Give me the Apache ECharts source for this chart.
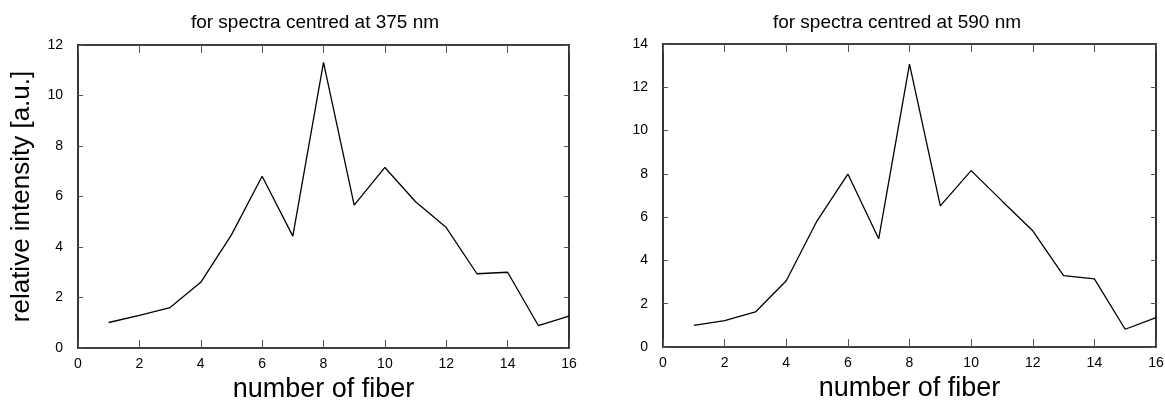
<!DOCTYPE html>
<html>
<head>
<meta charset="utf-8">
<script src="https://cdn.jsdelivr.net/npm/echarts@6/dist/echarts.min.js"></script>
<style>
html,body{margin:0;padding:0;background:#fff;}
#c{width:1165px;height:402px;}
</style>
</head>
<body>
<div id="c"></div>
<script>
const fibers = [1,2,3,4,5,6,7,8,9,10,11,12,13,14,15,16];
const intensity375 = [1.01,1.29,1.6,2.6,4.48,6.8,4.43,11.31,5.66,7.15,5.79,4.77,2.94,3.0,0.89,1.26];
const intensity590 = [1.0,1.22,1.62,3.06,5.83,7.99,5.0,13.07,6.52,8.15,6.75,5.37,3.3,3.15,0.82,1.36];
const titles = ['for spectra centred at 375 nm','for spectra centred at 590 nm'];
const xTitle = 'number of fiber';
const yTitle = 'relative intensity [a.u.]';
const xTicks = {min:0, max:16, interval:2};
const yTicks = [{min:0,max:12,interval:2},{min:0,max:14,interval:2}];

const FONT = 'Liberation Sans, Arial, Helvetica, sans-serif';
const chart = echarts.init(document.getElementById('c'), null, {renderer:'canvas'});

const grids = [
  {left:78, top:45, width:491, height:303, containLabel:false, outerBoundsMode:'none'},
  {left:663, top:44, width:493, height:303, containLabel:false, outerBoundsMode:'none'}
];

const xAxes = [], yAxes = [], series = [];
grids.forEach((g, i) => {
  xAxes.push({
    type:'value', gridIndex:i, position:'bottom', min:xTicks.min, max:xTicks.max, interval:xTicks.interval,
    axisLine:{show:true, onZero:false, lineStyle:{color:'#000', width:1.6}},
    axisTick:{show:true, inside:true, length:8, lineStyle:{color:'#555', width:1}},
    axisLabel:{show:true, color:'#000', fontSize:14, fontFamily:FONT, margin:9},
    splitLine:{show:false},
    name:xTitle, nameLocation:'middle', nameGap:24,
    nameTextStyle:{color:'#000', fontSize:27, fontFamily:FONT, verticalAlign:'top'}
  });
  xAxes.push({
    type:'value', gridIndex:i, position:'top', min:xTicks.min, max:xTicks.max, interval:xTicks.interval,
    axisLine:{show:true, onZero:false, lineStyle:{color:'#000', width:1.6}},
    axisTick:{show:true, inside:true, length:8, lineStyle:{color:'#555', width:1}},
    axisLabel:{show:false}, splitLine:{show:false}
  });
  yAxes.push({
    type:'value', gridIndex:i, position:'left', min:yTicks[i].min, max:yTicks[i].max, interval:yTicks[i].interval,
    axisLine:{show:true, onZero:false, lineStyle:{color:'#000', width:1.6}},
    axisTick:{show:true, inside:true, length:5, lineStyle:{color:'#555', width:1}},
    axisLabel:{show:true, color:'#000', fontSize:14, fontFamily:FONT, margin:15},
    splitLine:{show:false},
    name: i===0 ? yTitle : '', nameLocation:'middle', nameGap:43, nameRotate:90,
    nameTextStyle:{color:'#000', fontSize:26, fontFamily:FONT}
  });
  yAxes.push({
    type:'value', gridIndex:i, position:'right', min:yTicks[i].min, max:yTicks[i].max, interval:yTicks[i].interval,
    axisLine:{show:true, onZero:false, lineStyle:{color:'#000', width:1.6}},
    axisTick:{show:true, inside:true, length:5, lineStyle:{color:'#555', width:1}},
    axisLabel:{show:false}, splitLine:{show:false}
  });
});

const datasets = [intensity375, intensity590];
datasets.forEach((vals, i) => {
  series.push({
    type:'line', xAxisIndex:i*2, yAxisIndex:i*2,
    data: fibers.map((f, k) => [f, vals[k]]),
    showSymbol:false, symbol:'none', animation:false,
    lineStyle:{color:'#000', width:1.3}
  });
});

chart.setOption({
  animation:false,
  backgroundColor:'#fff',
  title: [
    {text:titles[0], left:310, top:8, textAlign:'center', textStyle:{color:'#000', fontSize:19, fontWeight:'normal', fontFamily:FONT}},
    {text:titles[1], left:892, top:8, textAlign:'center', textStyle:{color:'#000', fontSize:19, fontWeight:'normal', fontFamily:FONT}}
  ],
  grid: grids,
  xAxis: xAxes,
  yAxis: yAxes,
  series: series
});
</script>
</body>
</html>
